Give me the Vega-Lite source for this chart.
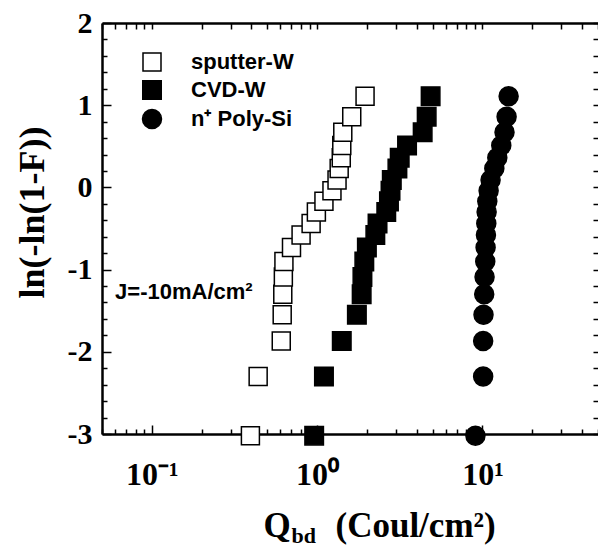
{
  "$schema": "https://vega.github.io/schema/vega-lite/v6.json",
  "width": 496,
  "height": 411,
  "autosize": {"type": "none"},
  "padding": {"left": 102, "top": 23, "right": 0, "bottom": 115},
  "background": "white",
  "config": {
    "view": {"stroke": null},
    "axis": {"grid": false, "domainColor": "black", "tickColor": "black", "labelColor": "black", "titleColor": "black"},
    "legend": {
      "orient": "none", "legendX": 39, "legendY": 28, "padding": 0,
      "labelFont": "Liberation Sans", "labelFontWeight": "bold", "labelFontSize": 22, "labelColor": "black",
      "labelOffset": 28, "rowPadding": 3, "symbolStrokeColor": "black", "symbolStrokeWidth": 1.5
    }
  },
  "datasets": {
    "points": [
      {"series": "sputter-W", "q": 0.395, "w": -3.02},
      {"series": "sputter-W", "q": 0.44, "w": -2.30},
      {"series": "sputter-W", "q": 0.607, "w": -1.87},
      {"series": "sputter-W", "q": 0.615, "w": -1.55},
      {"series": "sputter-W", "q": 0.62, "w": -1.30},
      {"series": "sputter-W", "q": 0.625, "w": -1.09},
      {"series": "sputter-W", "q": 0.63, "w": -0.90},
      {"series": "sputter-W", "q": 0.70, "w": -0.73},
      {"series": "sputter-W", "q": 0.80, "w": -0.58},
      {"series": "sputter-W", "q": 0.92, "w": -0.44},
      {"series": "sputter-W", "q": 0.99, "w": -0.30},
      {"series": "sputter-W", "q": 1.10, "w": -0.17},
      {"series": "sputter-W", "q": 1.23, "w": -0.04},
      {"series": "sputter-W", "q": 1.32, "w": 0.09},
      {"series": "sputter-W", "q": 1.36, "w": 0.23},
      {"series": "sputter-W", "q": 1.40, "w": 0.36},
      {"series": "sputter-W", "q": 1.41, "w": 0.51},
      {"series": "sputter-W", "q": 1.43, "w": 0.67},
      {"series": "sputter-W", "q": 1.62, "w": 0.86},
      {"series": "sputter-W", "q": 1.95, "w": 1.11},
      {"series": "CVD-W", "q": 0.96, "w": -3.02},
      {"series": "CVD-W", "q": 1.10, "w": -2.30},
      {"series": "CVD-W", "q": 1.41, "w": -1.87},
      {"series": "CVD-W", "q": 1.74, "w": -1.55},
      {"series": "CVD-W", "q": 1.86, "w": -1.30},
      {"series": "CVD-W", "q": 1.88, "w": -1.09},
      {"series": "CVD-W", "q": 1.93, "w": -0.90},
      {"series": "CVD-W", "q": 2.00, "w": -0.73},
      {"series": "CVD-W", "q": 2.25, "w": -0.58},
      {"series": "CVD-W", "q": 2.32, "w": -0.44},
      {"series": "CVD-W", "q": 2.62, "w": -0.30},
      {"series": "CVD-W", "q": 2.72, "w": -0.17},
      {"series": "CVD-W", "q": 2.78, "w": -0.04},
      {"series": "CVD-W", "q": 2.83, "w": 0.09},
      {"series": "CVD-W", "q": 3.06, "w": 0.23},
      {"series": "CVD-W", "q": 3.16, "w": 0.36},
      {"series": "CVD-W", "q": 3.50, "w": 0.51},
      {"series": "CVD-W", "q": 4.35, "w": 0.67},
      {"series": "CVD-W", "q": 4.60, "w": 0.86},
      {"series": "CVD-W", "q": 4.86, "w": 1.11},
      {"series": "n⁺  Poly-Si", "q": 9.07, "w": -3.02},
      {"series": "n⁺  Poly-Si", "q": 10.1, "w": -2.30},
      {"series": "n⁺  Poly-Si", "q": 10.1, "w": -1.87},
      {"series": "n⁺  Poly-Si", "q": 10.15, "w": -1.55},
      {"series": "n⁺  Poly-Si", "q": 10.25, "w": -1.30},
      {"series": "n⁺  Poly-Si", "q": 10.3, "w": -1.09},
      {"series": "n⁺  Poly-Si", "q": 10.4, "w": -0.90},
      {"series": "n⁺  Poly-Si", "q": 10.45, "w": -0.73},
      {"series": "n⁺  Poly-Si", "q": 10.5, "w": -0.58},
      {"series": "n⁺  Poly-Si", "q": 10.55, "w": -0.44},
      {"series": "n⁺  Poly-Si", "q": 10.6, "w": -0.30},
      {"series": "n⁺  Poly-Si", "q": 10.7, "w": -0.17},
      {"series": "n⁺  Poly-Si", "q": 10.9, "w": -0.04},
      {"series": "n⁺  Poly-Si", "q": 11.2, "w": 0.09},
      {"series": "n⁺  Poly-Si", "q": 11.8, "w": 0.23},
      {"series": "n⁺  Poly-Si", "q": 12.3, "w": 0.36},
      {"series": "n⁺  Poly-Si", "q": 13.0, "w": 0.51},
      {"series": "n⁺  Poly-Si", "q": 13.6, "w": 0.67},
      {"series": "n⁺  Poly-Si", "q": 14.0, "w": 0.86},
      {"series": "n⁺  Poly-Si", "q": 14.4, "w": 1.11}
    ],
    "note": [{"label": "J=-10mA/cm²", "q": 0.06, "w": -1.27}]
  },
  "layer": [
    {
      "data": {"name": "points"},
      "mark": {"type": "point", "opacity": 0},
      "encoding": {
        "x": {"field": "q", "type": "quantitative", "scale": {"type": "log", "domain": [0.05, 50], "nice": false},
          "axis": {"orient": "bottom", "values": [0.05, 0.06, 0.07, 0.08, 0.09, 0.2, 0.3, 0.4, 0.5, 0.6, 0.7, 0.8, 0.9, 2, 3, 4, 5, 6, 7, 8, 9, 20, 30, 40, 50],
            "labels": false, "domain": false, "ticks": true, "tickSize": -5, "tickWidth": 1.5,
            "title": "Q", "titleFont": "Liberation Serif", "titleFontWeight": "bold", "titleFontSize": 35,
            "titleAlign": "left", "titleX": 161, "titleY": 102, "titleBaseline": "alphabetic"}},
        "y": {"field": "w", "type": "quantitative", "scale": {"domain": [-3, 2], "nice": false, "zero": false},
          "axis": {"orient": "left", "values": [-2.8, -2.6, -2.4, -2.2, -1.8, -1.6, -1.4, -1.2, -0.8, -0.6, -0.4, -0.2, 0.2, 0.4, 0.6, 0.8, 1.2, 1.4, 1.6, 1.8],
            "labels": false, "domain": false, "tickSize": -5, "tickWidth": 1.5, "title": null}}
      }
    },
    {
      "data": {"name": "points"},
      "mark": {"type": "point", "opacity": 0},
      "encoding": {
        "x": {"field": "q", "type": "quantitative", "scale": {"type": "log", "domain": [0.05, 50], "nice": false},
          "axis": {"orient": "bottom", "values": [0.1, 1, 10], "labels": false, "domain": false, "tickSize": -9, "tickWidth": 1.5,
            "title": "bd", "titleFont": "Liberation Serif", "titleFontWeight": "bold", "titleFontSize": 22,
            "titleAlign": "left", "titleX": 189, "titleY": 108, "titleBaseline": "alphabetic"}},
        "y": {"field": "w", "type": "quantitative", "scale": {"domain": [-3, 2], "nice": false, "zero": false},
          "axis": {"orient": "left", "values": [-3, -2, -1, 0, 1, 2], "labels": false, "domain": false, "tickSize": -9, "tickWidth": 1.5, "title": null}}
      }
    },
    {
      "data": {"name": "points"},
      "mark": {"type": "point", "opacity": 0},
      "encoding": {
        "x": {"field": "q", "type": "quantitative", "scale": {"type": "log", "domain": [0.05, 50], "nice": false},
          "axis": {"orient": "top", "values": [0.05, 0.06, 0.07, 0.08, 0.09, 0.1, 0.2, 0.3, 0.4, 0.5, 0.6, 0.7, 0.8, 0.9, 1, 2, 3, 4, 5, 6, 7, 8, 9, 10, 20, 30, 40, 50],
            "labels": false, "domain": true, "domainWidth": 2.5, "tickSize": -6, "tickWidth": 1.5, "title": null}},
        "y": {"field": "w", "type": "quantitative", "scale": {"domain": [-3, 2], "nice": false, "zero": false},
          "axis": {"orient": "right", "values": [-3, -2.8, -2.6, -2.4, -2.2, -2, -1.8, -1.6, -1.4, -1.2, -1, -0.8, -0.6, -0.4, -0.2, 0, 0.2, 0.4, 0.6, 0.8, 1, 1.2, 1.4, 1.6, 1.8, 2],
            "labels": false, "domain": false, "tickSize": -5, "tickWidth": 1.5, "title": null}}
      }
    },
    {
      "data": {"name": "points"},
      "mark": {"type": "point", "filled": true, "stroke": "black", "strokeWidth": 1.5, "opacity": 1},
      "encoding": {
        "x": {"field": "q", "type": "quantitative", "scale": {"type": "log", "domain": [0.05, 50], "nice": false},
          "axis": {"orient": "bottom", "values": [0.1, 1, 10], "ticks": false, "domain": true, "domainWidth": 2.5,
            "labelExpr": "datum.value < 0.5 ? '10⁻¹' : datum.value < 5 ? '10⁰' : '10¹'",
            "labelFont": "Liberation Serif", "labelFontWeight": "bold", "labelFontSize": 32, "labelPadding": 25,
            "labelBaseline": "top", "labelFlush": false, "labelOverlap": false,
            "title": "(Coul/cm²)", "titleFont": "Liberation Serif", "titleFontWeight": "bold", "titleFontSize": 35,
            "titleAlign": "left", "titleX": 233, "titleY": 102, "titleBaseline": "alphabetic"}},
        "y": {"field": "w", "type": "quantitative", "scale": {"domain": [-3, 2], "nice": false, "zero": false},
          "axis": {"orient": "left", "values": [-3, -2, -1, 0, 1, 2], "ticks": false, "domain": true, "domainWidth": 2.5,
            "labelExpr": "'' + datum.value", "labelFont": "Liberation Serif", "labelFontWeight": "bold", "labelFontSize": 30,
            "labelPadding": 10, "labelOverlap": false,
            "title": "ln(-ln(1-F))", "titleFont": "Liberation Serif", "titleFontWeight": "bold", "titleFontSize": 36,
            "titleAngle": -90, "titleX": -59, "titleY": 189, "titleAlign": "center", "titleBaseline": "alphabetic"}},
        "shape": {"field": "series", "type": "nominal", "scale": {"domain": ["sputter-W", "CVD-W", "n⁺  Poly-Si"], "range": ["square", "square", "circle"]}, "legend": {"title": null}},
        "fill": {"field": "series", "type": "nominal", "scale": {"domain": ["sputter-W", "CVD-W", "n⁺  Poly-Si"], "range": ["white", "black", "black"]}, "legend": {"title": null}},
        "stroke": {"field": "series", "type": "nominal", "scale": {"domain": ["sputter-W", "CVD-W", "n⁺  Poly-Si"], "range": ["black", "black", "black"]}, "legend": {"title": null}},
        "size": {"field": "series", "type": "nominal", "scale": {"domain": ["sputter-W", "CVD-W", "n⁺  Poly-Si"], "range": [324, 361, 500]}, "legend": {"title": null}}
      }
    },
    {
      "data": {"name": "note"},
      "mark": {"type": "text", "align": "left", "baseline": "middle", "font": "Liberation Sans", "fontWeight": "bold", "fontSize": 22, "color": "black"},
      "encoding": {
        "x": {"field": "q", "type": "quantitative", "scale": {"type": "log", "domain": [0.05, 50], "nice": false}, "axis": null},
        "y": {"field": "w", "type": "quantitative", "scale": {"domain": [-3, 2], "nice": false, "zero": false}, "axis": null},
        "text": {"field": "label"}
      }
    }
  ],
  "resolve": {"axis": {"x": "independent", "y": "independent"}}
}
